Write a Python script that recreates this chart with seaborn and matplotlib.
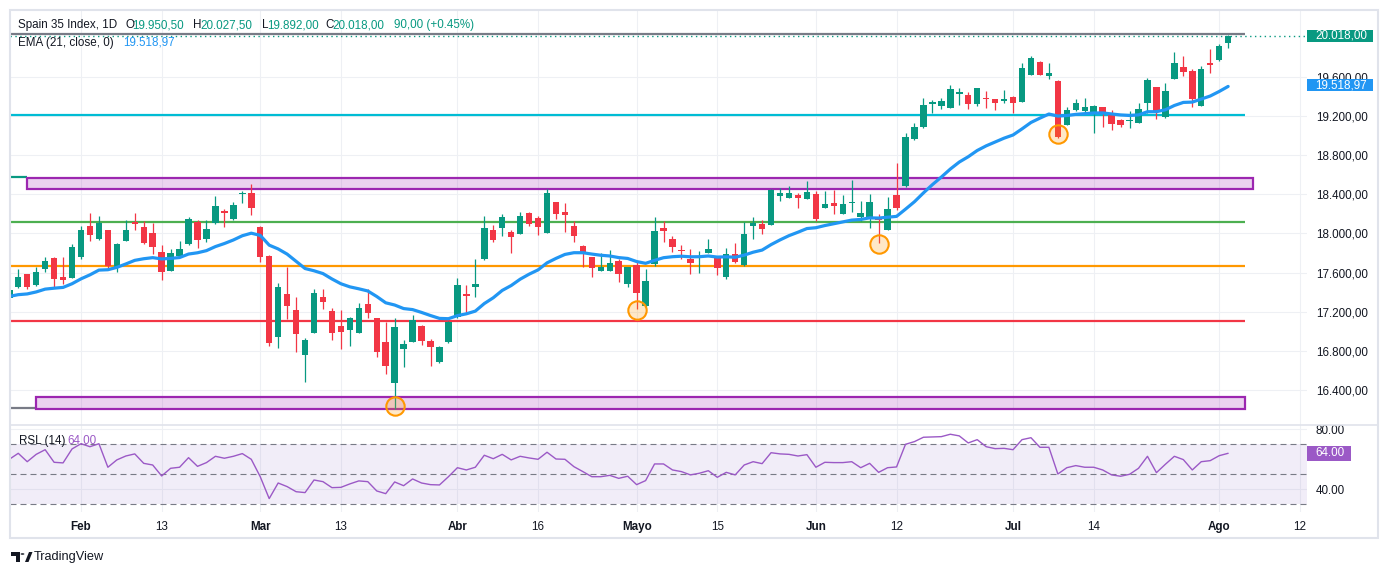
import numpy as np
import pandas as pd
import seaborn as sns
import matplotlib.pyplot as plt
from matplotlib.patches import Rectangle, Polygon, Circle
from matplotlib.lines import Line2D

# daily candles (bar index 0 .. 136)
opens = [17340, 17456, 17582, 17473, 17637, 17749, 17555, 17548, 17762, 18076,
         17943, 18035, 17654, 17926, 18121, 18066, 18004, 17810, 17619, 17769,
         17892, 18121, 17943, 18110, 18229, 18151, 18400, 18417, 18069, 17772,
         16945, 17381, 17217, 16761, 16986, 17347, 17207, 17054, 17016, 16986,
         17276, 17133, 16887, 16475, 16822, 16894, 17054, 16901, 16689, 16894,
         17149, 17378, 17456, 17736, 18035, 18059, 18015, 17997, 18206, 18158,
         18008, 18318, 18219, 18076, 17872, 17756, 17619, 17619, 17718, 17483,
         17674, 17258, 17688, 18052, 17943, 17824, 17736, 17752, 17803, 17752,
         17558, 17787, 17677, 18079, 18096, 18089, 18386, 18365, 18390, 18355,
         18403, 18263, 18311, 18202, 18308, 18165, 18151, 18155, 18038, 18393,
         18488, 18962, 19085, 19320, 19305, 19285, 19422, 19415, 19320, 19384,
         19371, 19356, 19394, 19346, 19622, 19749, 19612, 19558, 19111, 19261,
         19251, 19234, 19292, 19228, 19159, 19146, 19132, 19330, 19496, 19193,
         19581, 19701, 19663, 19305, 19745, 19772, 19950.5]
highs = [17450, 17636, 17590, 17660, 17762, 17762, 17756, 17892, 18076, 18212,
         18181, 18040, 17906, 18137, 18212, 18127, 18110, 17882, 17841, 17926,
         18168, 18137, 18137, 18382, 18250, 18320, 18437, 18505, 18076, 17780,
         17497, 17660, 17347, 16934, 17435, 17432, 17241, 17217, 17149, 17286,
         17429, 17140, 17098, 17133, 16911, 17166, 17060, 16921, 16845, 17105,
         17541, 17470, 17736, 18178, 18086, 18199, 18035, 18219, 18219, 18178,
         18451, 18320, 18314, 18124, 17882, 17760, 17797, 17831, 17740, 17660,
         17715, 17636, 18168, 18124, 17974, 17882, 17838, 17824, 17943, 17769,
         17854, 17899, 18120, 18165, 18137, 18451, 18467, 18485, 18417, 18536,
         18434, 18434, 18444, 18390, 18546, 18331, 18400, 18199, 18369, 18723,
         19029, 19125, 19381, 19364, 19381, 19517, 19483, 19445, 19490, 19455,
         19375, 19463, 19400, 19739, 19813, 19765, 19739, 19568, 19295, 19371,
         19384, 19312, 19295, 19261, 19165, 19251, 19336, 19588, 19500, 19534,
         19854, 19813, 19677, 19711, 19885, 19933, 20027.5]
lows = [17320, 17439, 17429, 17465, 17609, 17450, 17483, 17540, 17736, 17926,
        17935, 17633, 17609, 17920, 18035, 17892, 17790, 17524, 17615, 17760,
        17885, 17851, 17916, 18100, 18069, 18140, 18314, 18188, 17711, 16850,
        16832, 17128, 16791, 16485, 16980, 17228, 16911, 16816, 16853, 16980,
        17133, 16740, 16560, 16203, 16638, 16890, 16863, 16648, 16680, 16880,
        17140, 17184, 17347, 17729, 17916, 17977, 17803, 17990, 18079, 17984,
        18001, 18147, 18015, 17916, 17660, 17558, 17615, 17615, 17500, 17450,
        17231, 17250, 17667, 17912, 17813, 17736, 17583, 17599, 17800, 17575,
        17531, 17701, 17670, 17943, 17994, 18085, 18331, 18360, 18263, 18350,
        18127, 18260, 18199, 18200, 18219, 18130, 18059, 17899, 18030, 18240,
        18478, 18955, 19074, 19234, 19272, 19280, 19312, 19272, 19299, 19285,
        19264, 19330, 19228, 19340, 19615, 19615, 19575, 18972, 19105, 19255,
        19234, 19029, 19091, 19057, 19085, 19080, 19125, 19234, 19166, 19176,
        19575, 19609, 19295, 19300, 19636, 19765, 19892]
closes = [17420, 17552, 17456, 17606, 17718, 17537, 17527, 17861, 18035, 17987,
          18110, 17667, 17892, 18035, 18096, 17906, 17864, 17609, 17797, 17841,
          18147, 17933, 18042, 18280, 18209, 18294, 18410, 18263, 17756, 16883,
          17453, 17261, 16972, 16911, 17388, 17302, 16986, 16996, 17136, 17235,
          17190, 16791, 16648, 17041, 16870, 17115, 16904, 16843, 16839, 17098,
          17473, 17364, 17483, 18055, 17933, 18168, 17967, 18178, 18096, 18069,
          18416, 18202, 18191, 17977, 17803, 17650, 17657, 17694, 17589, 17657,
          17395, 17514, 18025, 18025, 17864, 17817, 17701, 17772, 17841, 17650,
          17787, 17711, 17994, 18107, 18048, 18444, 18413, 18413, 18365, 18423,
          18144, 18301, 18284, 18301, 18325, 18209, 18321, 18137, 18247, 18263,
          18985, 19085, 19312, 19343, 19353, 19476, 19445, 19326, 19483, 19371,
          19330, 19364, 19330, 19691, 19790, 19622, 19639, 18988, 19261, 19336,
          19295, 19302, 19234, 19121, 19105, 19152, 19272, 19568, 19245, 19459,
          19745, 19653, 19374, 19680, 19718, 19915, 20018]
rsi_values = [60.0, 64.0, 58.4, 63.3, 66.4, 58.0, 57.6, 66.9, 70.4, 68.4,
              70.4, 54.7, 59.6, 62.2, 63.6, 57.3, 56.2, 48.9, 54.0, 54.7,
              61.1, 55.3, 57.8, 62.0, 60.7, 62.0, 63.8, 60.0, 48.4, 33.8,
              44.2, 41.8, 38.4, 37.8, 46.2, 45.1, 41.1, 41.3, 43.6, 45.6,
              45.1, 38.9, 37.1, 44.9, 42.4, 46.9, 44.2, 43.1, 42.9, 48.4,
              54.4, 52.9, 54.7, 62.7, 60.4, 63.3, 59.6, 62.0, 60.9, 60.0,
              64.7, 60.2, 60.0, 55.1, 51.8, 48.4, 48.4, 49.3, 47.3, 48.7,
              43.1, 45.8, 56.9, 56.9, 52.9, 51.8, 49.6, 50.7, 52.4, 48.0,
              51.3, 49.6, 56.2, 58.4, 57.1, 64.4, 63.6, 63.3, 62.2, 63.1,
              54.7, 58.0, 57.8, 57.8, 58.4, 54.4, 57.3, 51.3, 54.4, 54.9,
              70.0, 71.8, 74.7, 74.9, 75.1, 76.7, 75.6, 70.9, 73.1, 68.4,
              67.1, 67.3, 66.4, 73.1, 74.4, 68.0, 68.0, 50.2, 54.4, 55.8,
              54.7, 54.7, 52.9, 49.6, 48.7, 50.0, 54.0, 62.0, 51.1, 56.7,
              62.0, 59.8, 52.9, 58.4, 59.1, 62.4, 64.0]
ema_seed = 17350  # EMA value just before the first visible bar

tick_bars = [8, 17, 28, 37, 50, 59, 70, 79, 90, 99, 112, 121, 135, 144]
tick_labels = ['Feb', '13', 'Mar', '13', 'Abr', '16', 'Mayo', '15', 'Jun', '12',
               'Jul', '14', 'Ago', '12']
month_labels = {'Feb', 'Mar', 'Abr', 'Mayo', 'Jun', 'Jul', 'Ago'}

# drawings on the chart
level_prices = [20035, 19210, 18120, 17670, 17108]
level_colors = ['#787b86', '#00bcd4', '#4caf50', '#ff9800', '#f23645']
level_end = 137.9
zones = [(1.94, 138.8, 18457, 18570), (2.98, 137.9, 16206, 16332)]
circle_bars = [43, 70, 97, 117]
circle_prices = [16237, 17222, 17892, 19013]

last_ema = 19518.97
last_rsi = 64.00
change_text = '90,00 (+0.45%)'

UP = '#089981'
DOWN = '#f23645'
TXT = '#131722'
GRID = '#eef0f4'


def es(v):
    s = f"{v:,.2f}"
    return s.replace(',', ' ').replace('.', ',').replace(' ', '.')


df = pd.DataFrame({'bar': np.arange(len(closes)), 'open': opens, 'high': highs,
                   'low': lows, 'close': closes, 'rsi': rsi_values})
df['ema'] = pd.Series([ema_seed] + closes).ewm(span=21, adjust=False).mean().iloc[1:].to_numpy()

sns.set_style("white")
plt.rcParams["font.family"] = ["Liberation Sans", "DejaVu Sans"]
plt.rcParams["font.size"] = 8.4

W, H = 1388, 575
fig = plt.figure(figsize=(W / 100, H / 100), dpi=100)


def fx(px):
    return px / W


def fy(py):
    return 1 - py / H


ax = fig.add_axes([fx(10), fy(424), fx(1307) - fx(10), fy(10) - fy(424)])
ax_rsi = fig.add_axes([fx(10), fy(512), fx(1307) - fx(10), fy(424) - fy(512)])

# candles
up = df['close'] >= df['open']
cols = np.where(up, UP, DOWN)
ax.vlines(df['bar'], df['low'], df['high'], colors=cols, lw=0.9, zorder=3)
body_lo = np.minimum(df['open'], df['close'])
body_h = np.maximum((df['close'] - df['open']).abs(), 14)
ax.bar(df['bar'], body_h, bottom=body_lo, width=0.72, color=cols, lw=0, zorder=4)

sns.lineplot(data=df, x='bar', y='ema', ax=ax, color='#2196f3', lw=2.3, zorder=5)

# levels and zones
for p, c in zip(level_prices, level_colors):
    ax.hlines(p, -1, level_end, color=c, lw=1.6, zorder=2)
ax.hlines(18575, -1, zones[0][0], color=UP, lw=1.6, zorder=2)
ax.hlines(16215, -1, zones[1][0], color='#787b86', lw=1.6, zorder=2)
for x0, x1, p0, p1 in zones:
    ax.add_patch(Rectangle((x0, p0), x1 - x0, p1 - p0, fc=(0.612, 0.153, 0.69, 0.2),
                           ec='#9c27b0', lw=1.6, zorder=2))
ax.axhline(closes[-1], color=UP, lw=1, ls=(0, (1, 2.5)), zorder=2)
ax.scatter(circle_bars, circle_prices, s=175, fc=(1, 0.6, 0, 0.22), ec='#ff9800',
           lw=1.5, zorder=6)

ax.set_xlim(0.078, 144.8)
ax.set_ylim(16052.5, 20283)
ax.set_yticks(range(16400, 19601, 400))
ax.set_yticklabels([es(v) for v in range(16400, 19601, 400)])
ax.yaxis.tick_right()
ax.tick_params(axis='y', length=0, pad=6.3, labelsize=8.4, labelcolor=TXT)
ax.set_xticks(tick_bars)
ax.tick_params(axis='x', length=0, labelbottom=False)
ax.grid(True, color=GRID, lw=0.8)
ax.set_xlabel('')
ax.set_ylabel('')
for s in ax.spines.values():
    s.set_visible(False)

# RSI pane
ax_rsi.axhspan(30, 70, color='#7e57c2', alpha=0.1, lw=0)
for lvl in (70, 50, 30):
    ax_rsi.axhline(lvl, color='#787b86', lw=0.8, ls=(0, (5.4, 3.6)))
sns.lineplot(data=df, x='bar', y='rsi', ax=ax_rsi, color='#9b59c6', lw=1.0)
ax_rsi.set_xlim(0.078, 144.8)
ax_rsi.set_ylim(24.87, 83.53)
ax_rsi.set_yticks([40, 80])
ax_rsi.set_yticklabels(['40.00', '80.00'])
ax_rsi.yaxis.tick_right()
ax_rsi.tick_params(axis='y', length=0, pad=6.3, labelsize=8.4, labelcolor=TXT)
ax_rsi.set_xticks(tick_bars)
ax_rsi.set_xticklabels(tick_labels)
ax_rsi.tick_params(axis='x', length=0, pad=6.5, labelsize=8.4, labelcolor=TXT)
for t in ax_rsi.get_xticklabels():
    if t.get_text() in month_labels:
        t.set_fontweight('bold')
ax_rsi.grid(True, color=GRID, lw=0.8)
ax_rsi.set_xlabel('')
ax_rsi.set_ylabel('')
for s in ax_rsi.spines.values():
    s.set_visible(False)

# frame and separators
fig.patches.append(Rectangle((fx(10), fy(538)), fx(1378) - fx(10), fy(10) - fy(538),
                             transform=fig.transFigure, fill=False, ec='#e0e3eb', lw=1.5))
fig.lines.append(Line2D([fx(10), fx(1378)], [fy(424.5), fy(424.5)],
                        transform=fig.transFigure, color='#e0e3eb', lw=1.2))


def price_box(y0, y1, x1, color, label):
    fig.patches.append(Rectangle((fx(1307), fy(y1)), fx(x1) - fx(1307), fy(y0) - fy(y1),
                                 transform=fig.transFigure, fc=color, ec='none', zorder=5))
    fig.text(fx(1315.5), fy((y0 + y1) / 2), label, color='white', fontsize=8.4,
             va='center', ha='left', zorder=6)


price_box(30, 42, 1373, UP, es(closes[-1]))
price_box(79, 91, 1373, '#2196f3', es(last_ema))
price_box(446, 461, 1351, '#9b59c6', f"{last_rsi:.2f}")

# legend texts
hdr = [(18.3, 'Spain 35 Index, 1D', TXT),
       (125, 'O', TXT), (132.3, es(opens[-1]), UP),
       (193, 'H', TXT), (200.8, es(highs[-1]), UP),
       (261.7, 'L', TXT), (267.3, es(lows[-1]), UP),
       (325, 'C', TXT), (332.3, es(closes[-1]), UP),
       (394.5, change_text, UP)]
for x, s, c in hdr:
    fig.text(fx(x), fy(25), s, color=c, fontsize=8.4, va='center', ha='left')
fig.text(fx(18.3), fy(42.7), 'EMA (21, close, 0)', color=TXT, fontsize=8.4, va='center')
fig.text(fx(123), fy(42.7), es(last_ema), color='#2196f3', fontsize=8.4, va='center')
fig.text(fx(19), fy(441), 'RSL (14)', color=TXT, fontsize=8.4, va='center')
fig.text(fx(67), fy(441), f"{last_rsi:.2f}", color='#9b59c6', fontsize=8.4, va='center')

# TradingView mark
logo = [[(10.5, 552), (19.5, 552), (19.5, 562), (15.5, 562), (15.5, 556), (10.5, 556)],
        [(25, 562), (29, 552), (32.5, 552), (28.5, 562)]]
for pts in logo:
    fig.patches.append(Polygon([(fx(a), fy(b)) for a, b in pts], closed=True,
                               transform=fig.transFigure, fc=TXT, ec='none'))
fig.patches.append(Circle((fx(22.5), fy(554)), 1.9 / W, transform=fig.transFigure,
                          fc=TXT, ec='none'))
fig.text(fx(34), fy(557), 'TradingView', color=TXT, fontsize=9.2, va='center')

fig.savefig('out.png', dpi=100, facecolor='white')
